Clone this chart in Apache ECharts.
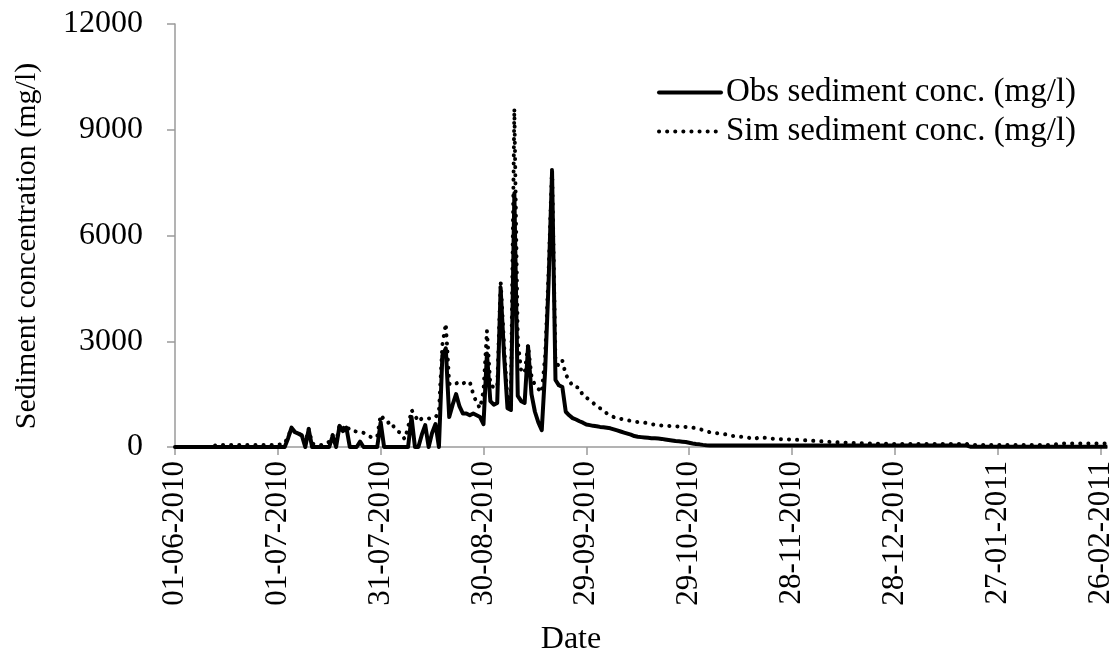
<!DOCTYPE html>
<html>
<head>
<meta charset="utf-8">
<script src="https://cdn.jsdelivr.net/npm/echarts@6/dist/echarts.min.js"></script>
<style>
  html, body { margin: 0; padding: 0; background: #fff; }
  #chart { width: 1116px; height: 650px; }
</style>
</head>
<body>
<div id="chart"></div>
<script>
// Daily series, 01-06-2010 .. 28-02-2011 (273 days)
const startDate = [2010, 5, 1];   // year, month (0-based), day
const dayCount = 273;

// Observed sediment concentration (mg/l), one value per day
const obsConc = [
  0, 0, 0, 0, 0, 0, 0, 0, 0, 0,
  0, 0, 0, 0, 0, 0, 0, 0, 0, 0,
  0, 0, 0, 0, 0, 0, 0, 0, 0, 0,
  0, 0, 0, 250, 550, 420, 380, 330, 0, 500,
  0, 0, 0, 0, 0, 0, 320, 0, 600, 450,
  550, 0, 0, 0, 150, 0, 0, 0, 0, 0,
  700, 0, 0, 0, 0, 0, 0, 0, 0, 850,
  0, 0, 350, 620, 0, 400, 650, 0, 2600, 2800,
  850, 1200, 1500, 1150, 950, 950, 900, 950, 900, 850,
  650, 2650, 1300, 1200, 1250, 4500, 2600, 1100, 1050, 7200,
  1450, 1300, 1250, 2850, 1500, 1000, 700, 480, 2200, 4700,
  7800, 1900, 1750, 1700, 1000, 900, 820, 780, 730, 690,
  640, 620, 600, 590, 570, 560, 545, 530, 500, 470,
  440, 410, 380, 350, 310, 290, 280, 270, 260, 250,
  245, 240, 230, 215, 200, 185, 170, 160, 150, 140,
  120, 100, 85, 75, 60, 50, 45, 40, 40, 40,
  40, 40, 40, 40, 40, 40, 40, 40, 40, 40,
  40, 40, 40, 40, 40, 40, 40, 40, 40, 40,
  40, 40, 40, 40, 40, 40, 40, 40, 40, 40,
  40, 40, 40, 40, 40, 40, 40, 40, 40, 40,
  40, 40, 40, 40, 40, 40, 40, 40, 40, 40,
  40, 40, 40, 40, 40, 40, 40, 40, 40, 40,
  40, 40, 40, 40, 40, 40, 40, 40, 40, 40,
  40, 40, 10, 10, 10, 10, 10, 10, 10, 10,
  10, 10, 10, 10, 10, 10, 10, 10, 10, 10,
  10, 10, 10, 10, 10, 10, 10, 10, 10, 10,
  10, 10, 10, 10, 10, 10, 10, 10, 10, 10,
  10, 10, 10
];

// Simulated sediment concentration (mg/l), one value per day
const simConc = [
  0, 0, 0, 0, 0, 0, 0, 0, 0, 0,
  0, 0, 60, 60, 60, 60, 60, 60, 60, 60,
  60, 60, 60, 60, 60, 60, 60, 60, 60, 60,
  60, 80, 100, 300, 520, 430, 390, 330, 120, 520,
  100, 60, 50, 60, 100, 150, 340, 120, 620, 520,
  620, 470, 450, 440, 430, 400, 330, 290, 260, 300,
  910, 780, 680, 720, 540, 450, 380, 220, 550, 1050,
  900, 720, 810, 800, 810, 820, 840, 1000, 2900, 3500,
  1800, 1750, 1800, 1850, 1800, 1850, 1850, 1500, 1250, 1100,
  1600, 3300, 1750, 1700, 1680, 4700, 2900, 1300, 1500, 9600,
  3000, 2150, 2100, 2900, 2000, 1750, 1650, 1550, 2600, 5000,
  7950, 2400, 2300, 2450, 2050, 1900, 1720, 1700, 1680, 1450,
  1400, 1330, 1250, 1150, 1100, 1050, 950, 900, 850, 810,
  800, 780, 760, 740, 720, 710, 700, 690, 670, 650,
  630, 620, 610, 600, 600, 590, 585, 580, 575, 570,
  560, 550, 530, 510, 480, 450, 420, 400, 390, 380,
  370, 350, 320, 310, 300, 290, 280, 270, 250, 220,
  260, 280, 260, 250, 240, 230, 225, 220, 220, 215,
  210, 205, 200, 195, 190, 180, 175, 170, 165, 160,
  150, 145, 140, 135, 130, 125, 120, 115, 112, 110,
  110, 108, 105, 100, 98, 95, 92, 90, 88, 86,
  85, 85, 85, 85, 85, 85, 85, 85, 85, 85,
  85, 85, 85, 85, 85, 85, 85, 85, 85, 85,
  85, 85, 60, 60, 60, 60, 60, 60, 60, 60,
  60, 60, 60, 60, 60, 60, 60, 60, 60, 60,
  60, 60, 60, 60, 60, 60, 70, 80, 90, 100,
  100, 100, 100, 100, 100, 100, 100, 100, 100, 100,
  100, 100, 100
];

const yTicks = { min: 0, max: 12000, step: 3000 };
const seriesNames = ['Obs sediment conc. (mg/l)', 'Sim sediment conc. (mg/l)'];
const labelEveryDays = 30;

// Category labels dd-mm-yyyy for every day of the record
const pad = n => String(n).padStart(2, '0');
const dateLabels = [];
for (let i = 0; i < dayCount; i++) {
  const d = new Date(Date.UTC(startDate[0], startDate[1], startDate[2] + i));
  dateLabels.push(pad(d.getUTCDate()) + '-' + pad(d.getUTCMonth() + 1) + '-' + d.getUTCFullYear());
}

const FONT = 'Liberation Serif, Times New Roman, serif';
const AXIS_GRAY = '#9a9a9a';

const chart = echarts.init(document.getElementById('chart'), null, { renderer: 'canvas' });

chart.setOption({
  animation: false,
  backgroundColor: '#ffffff',
  grid: { left: 175, right: 8, top: 24, bottom: 203, containLabel: false },
  legend: {
    orient: 'vertical',
    left: 652,
    top: 71,
    itemWidth: 62,
    itemHeight: 14,
    itemGap: 6,
    itemStyle: { opacity: 0 },
    lineStyle: { width: 4, cap: 'round' },
    textStyle: { fontFamily: FONT, fontSize: 33, color: '#000' },
    data: seriesNames
  },
  xAxis: {
    type: 'category',
    data: dateLabels,
    boundaryGap: false,
    axisLine: { show: true, lineStyle: { color: AXIS_GRAY, width: 1.5 } },
    axisTick: { show: true, interval: labelEveryDays - 1, length: 8, inside: false,
                lineStyle: { color: AXIS_GRAY, width: 1.5 } },
    axisLabel: {
      interval: labelEveryDays - 1,
      rotate: 90,
      margin: 14,
      fontFamily: FONT,
      fontSize: 31,
      color: '#000'
    },
    splitLine: { show: false }
  },
  yAxis: {
    type: 'value',
    min: yTicks.min,
    max: yTicks.max,
    interval: yTicks.step,
    axisLine: { show: true, lineStyle: { color: AXIS_GRAY, width: 1.5 } },
    axisTick: { show: true, length: 8, inside: false, lineStyle: { color: AXIS_GRAY, width: 1.5 } },
    axisLabel: {
      margin: 32, fontFamily: FONT, fontSize: 32, color: '#000',
      formatter: v => String(v)
    },
    splitLine: { show: false }
  },
  graphic: [
    {
      type: 'text',
      x: 27, y: 246,
      rotation: Math.PI / 2,
      style: {
        text: 'Sediment concentration (mg/l)',
        font: '30px ' + FONT,
        fill: '#000',
        align: 'center',
        verticalAlign: 'middle'
      }
    },
    {
      type: 'text',
      x: 571, y: 640,
      style: {
        text: 'Date',
        font: '32px ' + FONT,
        fill: '#000',
        align: 'center',
        verticalAlign: 'middle'
      }
    }
  ],
  series: [
    {
      name: seriesNames[0],
      type: 'line',
      data: obsConc,
      symbol: 'none',
      sampling: null,
      lineStyle: { color: '#000', width: 4, join: 'round' },
      itemStyle: { color: '#000' },
      z: 2
    },
    {
      name: seriesNames[1],
      type: 'line',
      data: simConc,
      symbol: 'none',
      lineStyle: { color: '#000', width: 4, type: [0.1, 8], cap: 'round', join: 'round' },
      itemStyle: { color: '#000' },
      z: 3
    }
  ]
});
</script>
</body>
</html>
